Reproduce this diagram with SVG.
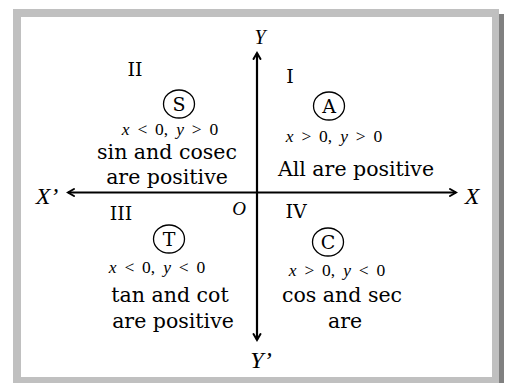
<svg xmlns="http://www.w3.org/2000/svg" width="509" height="383" viewBox="0 0 509 383">
<style>
.t{font-family:"DejaVu Serif",serif;font-size:20.5px;fill:#000;text-anchor:middle}
.n{font-family:"DejaVu Serif",serif;font-size:19px;fill:#000;text-anchor:middle}
.m{font-family:"Liberation Serif",serif;font-style:italic;font-size:17.5px;fill:#000;text-anchor:middle;word-spacing:3.5px}
.m .r{font-style:normal}
.ax{font-family:"Liberation Serif",serif;font-style:italic;fill:#000;text-anchor:middle}
.c{fill:none;stroke:#000;stroke-width:1.3}
.axis{stroke:#000;stroke-width:2.2;fill:none}
.head{stroke:#000;stroke-width:2;fill:none;stroke-linecap:round;stroke-linejoin:miter}
</style>
<g id="frame">
<rect x="499" y="14" width="5" height="369" fill="#808080"/>
<rect x="13" y="9" width="486" height="374" fill="#c0c0c0"/>
<rect x="21" y="17" width="471" height="360" fill="#fff"/>
</g>
<g id="connectors">
<line class="axis" x1="68" y1="192.5" x2="456" y2="192.5"/>
<line class="axis" x1="257" y1="53" x2="257" y2="340"/>
<path class="head" d="M74,189 L68,192.5 L74,196"/>
<path class="head" d="M450,189 L456,192.5 L450,196"/>
<path class="head" d="M253.5,59 L257,53 L260.5,59"/>
<path class="head" d="M253.5,334 L257,340 L260.5,334"/>
</g>
<g id="axis-labels">
<text class="ax" x="260" y="44" font-size="20">Y</text>
<text class="ax" x="261" y="368" font-size="24">Y’</text>
<text class="ax" x="47" y="204" font-size="24">X’</text>
<text class="ax" x="472" y="204" font-size="24">X</text>
<text class="ax" x="239" y="215" font-size="19">O</text>
</g>
<g id="q2">
<text class="n" x="135" y="76">II</text>
<ellipse class="c" cx="179" cy="104" rx="15.5" ry="14"/>
<text class="n" x="179" y="111">S</text>
<text class="m" x="170" y="135">x <tspan class="r">&lt; 0,</tspan> y <tspan class="r">&gt; 0</tspan></text>
<text class="t" x="167" y="159">sin and cosec</text>
<text class="t" x="167" y="184">are positive</text>
</g>
<g id="q1">
<text class="n" x="290" y="83">I</text>
<ellipse class="c" cx="329" cy="106" rx="15.5" ry="14"/>
<text class="n" x="329" y="113">A</text>
<text class="m" x="334" y="142">x <tspan class="r">&gt; 0,</tspan> y <tspan class="r">&gt; 0</tspan></text>
<text class="t" x="356" y="176">All are positive</text>
</g>
<g id="q3">
<text class="n" x="121" y="220">III</text>
<ellipse class="c" cx="169" cy="239" rx="15.5" ry="14"/>
<text class="n" x="169" y="246">T</text>
<text class="m" x="157" y="273">x <tspan class="r">&lt; 0,</tspan> y <tspan class="r">&lt; 0</tspan></text>
<text class="t" x="170" y="302">tan and cot</text>
<text class="t" x="173" y="328">are positive</text>
</g>
<g id="q4">
<text class="n" x="296" y="218">IV</text>
<ellipse class="c" cx="328" cy="242" rx="15.5" ry="14"/>
<text class="n" x="328" y="249">C</text>
<text class="m" x="337" y="276">x <tspan class="r">&gt; 0,</tspan> y <tspan class="r">&lt; 0</tspan></text>
<text class="t" x="342" y="302">cos and sec</text>
<text class="t" x="345" y="328">are</text>
</g>
</svg>
